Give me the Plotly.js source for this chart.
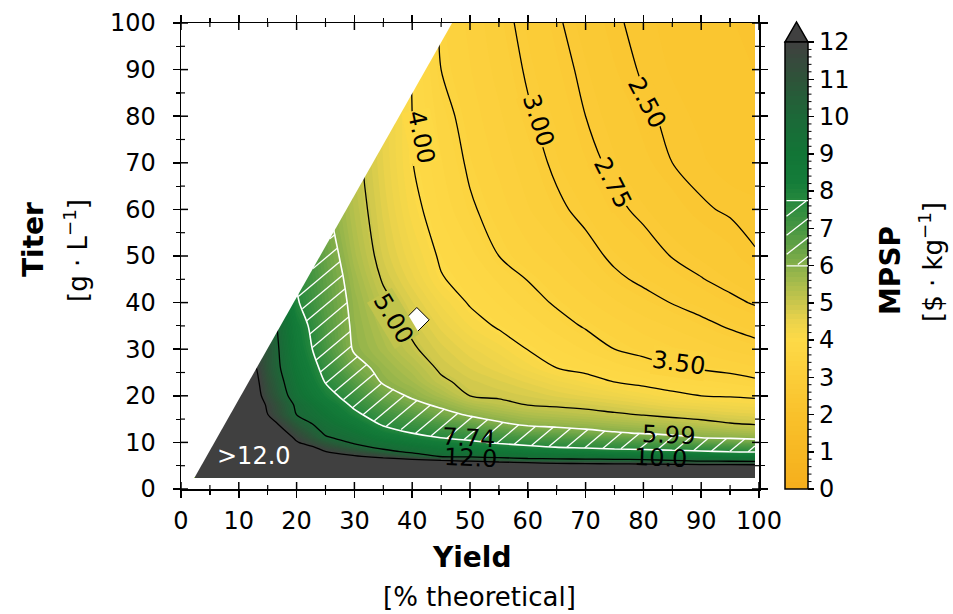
<!DOCTYPE html>
<html>
<head>
<meta charset="utf-8">
<script src="https://cdn.plot.ly/plotly-3.0.1.min.js"></script>
<style>html,body{margin:0;padding:0;background:#fff;}#chart{width:953px;height:614px;}</style>
</head>
<body>
<div id="chart"></div>
<script>
// ------------------------- DATA -------------------------
const yieldGrid = [2.4, 5, 10, 15, 20, 25, 30, 35, 40, 45, 50, 55, 60, 65, 70, 75, 80, 85, 90, 95, 99.3];
const titerGrid = [2.4, 4, 5, 6, 7, 8, 9, 10, 11, 12, 14, 16, 18, 20, 23, 26, 30, 35, 40, 45, 50, 60, 70, 80, 90, 100];
// MPSP [$/kg], one row per titer, one column per yield
const mpsp = [
  [30, 27, 24, 22, 21, 20.5, 20, 19.5, 19, 18.5, 18.5, 18.5, 18, 17.5, 17, 16.7, 16.5, 16.3, 16.1, 16, 16],
  [28, 25, 22, 20, 19, 18.5, 18, 17.5, 17, 16.5, 16.5, 16.5, 16, 15.5, 15, 14.7, 14.5, 14.3, 14.1, 14, 14],
  [26, 23, 20, 19, 17, 16, 15, 14.5, 14.5, 14.5, 15, 15, 14.4, 13.43, 13.2, 13.0, 12.87, 12.79, 12.68, 12.6, 12.56],
  [25, 22, 20, 18, 16, 14.5, 13.5, 12.85, 12.7, 12.3, 11.9, 11.2, 10.73, 10.57, 10.53, 10.5, 10.38, 10.16, 9.97, 9.87, 9.78],
  [24, 21, 19, 17, 15, 13.2, 12.14, 11.6, 10.81, 9.89, 9.73, 9.53, 9.40, 9.34, 9.27, 9.17, 9.11, 9.01, 8.91, 8.79, 8.71],
  [23, 20, 18, 16, 14, 12.03, 11.27, 10.37, 9.72, 9.35, 9.13, 8.85, 8.66, 8.52, 8.35, 8.14, 8.06, 7.95, 7.85, 7.73, 7.67],
  [22, 19, 17, 15, 13.0, 11.38, 10.41, 9.67, 9.22, 8.80, 8.52, 8.18, 7.91, 7.72, 7.59, 7.46, 7.39, 7.30, 7.20, 7.10, 7.0],
  [21, 18.5, 16.5, 14.3, 12.1, 10.75, 9.83, 9.21, 8.72, 8.26, 7.92, 7.61, 7.41, 7.28, 7.14, 6.99, 6.89, 6.76, 6.59, 6.46, 6.33],
  [20.5, 18, 16, 13.8, 11.75, 10.13, 9.52, 8.74, 8.21, 7.73, 7.50, 7.23, 6.98, 6.84, 6.68, 6.53, 6.39, 6.21, 5.99, 5.92, 5.84],
  [20, 17.5, 15.5, 13.4, 11.38, 9.84, 9.21, 8.28, 7.73, 7.44, 7.17, 6.86, 6.55, 6.40, 6.23, 6.06, 5.94, 5.83, 5.72, 5.62, 5.53],
  [19, 17, 15, 12.7, 10.65, 9.44, 8.58, 7.57, 7.23, 6.86, 6.49, 6.10, 5.84, 5.75, 5.66, 5.55, 5.45, 5.31, 5.19, 5.03, 4.95],
  [18.5, 16.5, 14.7, 12.01, 9.98, 9.04, 7.96, 7.17, 6.74, 6.28, 5.88, 5.63, 5.42, 5.31, 5.20, 5.07, 4.96, 4.85, 4.75, 4.65, 4.59],
  [18, 16, 14.4, 11.8, 9.80, 8.64, 7.55, 6.77, 6.25, 5.84, 5.44, 5.21, 5.0, 4.93, 4.85, 4.74, 4.61, 4.46, 4.38, 4.29, 4.23],
  [17.5, 15.5, 14.06, 11.42, 9.40, 8.15, 7.22, 6.4, 5.87, 5.48, 5.0, 4.9, 4.8, 4.66, 4.54, 4.41, 4.25, 4.1, 4.0, 3.96, 3.91],
  [17, 15, 14.0, 11.14, 9.12, 7.69, 6.75, 5.9, 5.57, 5.09, 4.85, 4.71, 4.54, 4.34, 4.17, 3.99, 3.89, 3.80, 3.73, 3.65, 3.56],
  [16.5, 14.5, 13.7, 10.89, 8.87, 7.4, 6.3, 5.73, 5.35, 4.91, 4.68, 4.49, 4.25, 4.0, 3.88, 3.77, 3.63, 3.52, 3.46, 3.40, 3.33],
  [16, 14, 12.5, 10.89, 8.59, 7.03, 5.90, 5.5, 5.07, 4.74, 4.48, 4.25, 3.99, 3.82, 3.67, 3.5, 3.41, 3.33, 3.26, 3.17, 3.10],
  [16, 14, 12.3, 10.79, 8.34, 6.84, 5.83, 5.34, 4.89, 4.52, 4.18, 3.95, 3.79, 3.62, 3.47, 3.37, 3.26, 3.17, 3.07, 2.97, 2.89],
  [16, 14, 12.2, 10.71, 7.85, 6.68, 5.76, 5.16, 4.70, 4.28, 3.96, 3.8, 3.62, 3.46, 3.34, 3.21, 3.09, 2.99, 2.9, 2.80, 2.73],
  [16, 14, 12.1, 10.6, 7.67, 6.58, 5.64, 4.94, 4.48, 4.03, 3.85, 3.66, 3.49, 3.35, 3.21, 3.05, 2.95, 2.86, 2.76, 2.68, 2.60],
  [16, 14, 12, 10.4, 7.56, 6.44, 5.48, 4.79, 4.33, 3.94, 3.74, 3.5, 3.36, 3.24, 3.09, 2.95, 2.85, 2.74, 2.67, 2.59, 2.51],
  [16, 14, 12, 10.17, 7.54, 6.13, 5.29, 4.65, 4.12, 3.79, 3.54, 3.38, 3.2, 3.05, 2.93, 2.8, 2.7, 2.61, 2.52, 2.48, 2.46],
  [16, 14, 12, 10.17, 7.54, 6.08, 5.17, 4.56, 4.01, 3.70, 3.45, 3.28, 3.11, 2.95, 2.82, 2.70, 2.59, 2.5, 2.45, 2.40, 2.38],
  [16, 14, 12, 10.24, 7.59, 6.14, 5.1, 4.53, 4.0, 3.61, 3.38, 3.21, 3.03, 2.89, 2.75, 2.64, 2.53, 2.465, 2.42, 2.37, 2.34],
  [16, 14, 12, 10.24, 7.59, 6.14, 5.1, 4.52, 3.98, 3.5, 3.32, 3.14, 2.97, 2.83, 2.70, 2.57, 2.48, 2.43, 2.39, 2.34, 2.31],
  [16, 14, 12, 10.4, 7.74, 6.28, 5.2, 4.53, 3.94, 3.46, 3.28, 3.09, 2.92, 2.78, 2.64, 2.52, 2.46, 2.41, 2.37, 2.32, 2.28]
];
// edge of the feasible (coloured) region: titer limit versus yield
const boundaryYield = [2.4, 46.9];
const boundaryTiter = [2.6, 100];
// contour levels
const blackLevels = [2.5, 2.75, 3.0, 3.5, 4.0, 5.0, 10.0, 12.0];
const hatchLevels = [5.99, 7.74];
// current-performance marker
const markerYield = [40.8];
const markerTiter = [36.3];
const xTickVals = [0, 10, 20, 30, 40, 50, 60, 70, 80, 90, 100];
const yTickVals = [0, 10, 20, 30, 40, 50, 60, 70, 80, 90, 100];
const minorTickVals = [5, 15, 25, 35, 45, 55, 65, 75, 85, 95];

// ------------------------- STYLE / LAYOUT -------------------------
const FONT = 'DejaVu Sans';
const M = {l: 181, r: 194, t: 23, b: 125};
const W = 953 - M.l - M.r, H = 614 - M.t - M.b;
const cbX = (785 - M.l) / W, cbThick = 23, cbLen = 447 / H;
const HATCH_SP = 12, HATCH_ANG = 40;
const MAJ = 7, MIN = 4; // inner tick lengths in px

const colorStops = [
  [0 / 12, '#F5AE1C'], [1 / 12, '#F7B823'], [2 / 12, '#F9C12B'], [3 / 12, '#FBCD39'],
  [4 / 12, '#FDDA47'], [4.5 / 12, '#EBD34B'], [5 / 12, '#C9C64C'], [5.5 / 12, '#A9BC4C'],
  [6 / 12, '#86AF4A'], [6.5 / 12, '#64A246'], [7 / 12, '#479642'], [7.75 / 12, '#25883D'],
  [8.25 / 12, '#147C39'], [9 / 12, '#127536'], [10 / 12, '#1C6838'], [11 / 12, '#2E5339'],
  [12 / 12, '#404040']
];

const contourLabels = [
  {text: '2.50', x: 80.6, y: 82.8, angle: 62, gap: true},
  {text: '2.75', x: 74.7, y: 65.7, angle: 63, gap: true},
  {text: '3.00', x: 61.8, y: 79.2, angle: 72, gap: true},
  {text: '4.00', x: 41.6, y: 75.6, angle: 78, gap: true},
  {text: '5.00', x: 36.7, y: 36.7, angle: 59, gap: true},
  {text: '3.50', x: 86.0, y: 27.0, angle: 8, gap: true},
  {text: '7.74', x: 49.7, y: 10.9, angle: 3, gap: false},
  {text: '12.0', x: 50.0, y: 6.7, angle: 2, gap: false},
  {text: '5.99', x: 84.3, y: 11.6, angle: 2, gap: false},
  {text: '10.0', x: 82.9, y: 6.7, angle: 2, gap: false}
];

// ------------------------- helpers -------------------------
function idx(arr, v) { let i = 0; while (i < arr.length - 2 && v > arr[i + 1]) i++; return i; }
function zAt(x, y) {
  if (x < yieldGrid[0] || x > yieldGrid[yieldGrid.length - 1] || y < titerGrid[0] || y > titerGrid[titerGrid.length - 1]) return NaN;
  const i = idx(yieldGrid, x), j = idx(titerGrid, y);
  const tx = (x - yieldGrid[i]) / (yieldGrid[i + 1] - yieldGrid[i]);
  const ty = (y - titerGrid[j]) / (titerGrid[j + 1] - titerGrid[j]);
  return (1 - tx) * (1 - ty) * mpsp[j][i] + tx * (1 - ty) * mpsp[j][i + 1] + (1 - tx) * ty * mpsp[j + 1][i] + tx * ty * mpsp[j + 1][i + 1];
}
function boundaryAt(t) {
  return boundaryYield[0] + (t - boundaryTiter[0]) * (boundaryYield[1] - boundaryYield[0]) / (boundaryTiter[1] - boundaryTiter[0]);
}
function hex2rgb(h) { return [parseInt(h.slice(1, 3), 16), parseInt(h.slice(3, 5), 16), parseInt(h.slice(5, 7), 16)]; }
function colorAt(v) {
  const f = Math.max(0, Math.min(1, v / 12));
  for (let k = 0; k < colorStops.length - 1; k++) {
    const a = colorStops[k], b = colorStops[k + 1];
    if (f <= b[0]) {
      const t = (f - a[0]) / (b[0] - a[0]), ca = hex2rgb(a[1]), cb = hex2rgb(b[1]);
      return 'rgb(' + ca.map((c, n) => Math.round(c + t * (cb[n] - c))).join(',') + ')';
    }
  }
  return colorStops[colorStops.length - 1][1];
}
function buildHatch(inside, wpx, hpx, spacing, angleDeg, phase) {
  const th = angleDeg * Math.PI / 180, ux = Math.cos(th), uy = Math.sin(th), nx = -uy, ny = ux;
  const corners = [[0, 0], [wpx, 0], [0, hpx], [wpx, hpx]];
  const cv = corners.map(p => nx * p[0] + ny * p[1]), tv = corners.map(p => ux * p[0] + uy * p[1]);
  const cmin = Math.min(...cv), cmax = Math.max(...cv), tmin = Math.min(...tv), tmax = Math.max(...tv);
  const segs = [];
  for (let c = Math.floor((cmin - phase) / spacing) * spacing + phase; c <= cmax; c += spacing) {
    let s = null, e = null;
    for (let t = tmin; t <= tmax; t += 0.4) {
      const px = c * nx + t * ux, py = c * ny + t * uy;
      const ok = px >= 0 && px <= wpx && py >= 0 && py <= hpx && inside(px, py);
      if (ok) { if (!s) s = [px, py]; e = [px, py]; }
      else if (s) { segs.push([s, e]); s = null; }
    }
    if (s) segs.push([s, e]);
  }
  return segs.filter(g => Math.hypot(g[1][0] - g[0][0], g[1][1] - g[0][1]) > 1.5);
}

// ------------------------- traces -------------------------
const traces = [];
traces.push({
  type: 'contour', x: yieldGrid, y: titerGrid, z: mpsp, colorscale: colorStops,
  autocontour: false,
  contours: {start: 0.0625, end: 11.9375, size: 0.125, coloring: 'fill', showlines: false},
  line: {width: 0}, hoverinfo: 'skip', showscale: true,
  colorbar: {
    x: cbX, xanchor: 'left', y: 0, yanchor: 'bottom', len: cbLen, lenmode: 'fraction',
    thickness: cbThick, thicknessmode: 'pixels', xpad: 0, ypad: 0,
    outlinewidth: 1.5, outlinecolor: 'black',
    tickmode: 'linear', tick0: 0, dtick: 1, ticks: 'outside', ticklen: 6, tickwidth: 1.5, tickcolor: 'black',
    tickfont: {family: FONT, size: 24, color: 'black'}
  }
});
blackLevels.forEach(L => traces.push({
  type: 'contour', x: yieldGrid, y: titerGrid, z: mpsp, autocontour: false,
  contours: {start: L, end: L, size: 1, coloring: 'none', showlines: true},
  line: {color: 'black', width: 1.3, smoothing: 0.9}, showscale: false, hoverinfo: 'skip'
}));
hatchLevels.forEach(L => traces.push({
  type: 'contour', x: yieldGrid, y: titerGrid, z: mpsp, autocontour: false,
  contours: {start: L, end: L, size: 1, coloring: 'none', showlines: true},
  line: {color: 'white', width: 1.6, smoothing: 0.9}, showscale: false, hoverinfo: 'skip'
}));
// white mask over the infeasible corner
traces.push({
  type: 'scatter', mode: 'lines',
  x: [boundaryYield[0], boundaryYield[1], boundaryYield[1], -3, -3, boundaryYield[0]],
  y: [boundaryTiter[0], boundaryTiter[1], 103, 103, boundaryTiter[0], boundaryTiter[0]],
  fill: 'toself', fillcolor: 'white', line: {width: 0, color: 'white'}, hoverinfo: 'skip', showlegend: false
});
// hatch between the two white levels
const hs = buildHatch((px, py) => {
  const x = px / W * 100, y = py / H * 100;
  if (x < boundaryAt(y)) return false;
  const z = zAt(x, y);
  return z >= hatchLevels[0] && z <= hatchLevels[1];
}, W, H, HATCH_SP, HATCH_ANG, 0);
const hx = [], hy = [];
hs.forEach(s => { hx.push(s[0][0] / W * 100, s[1][0] / W * 100, null); hy.push(s[0][1] / H * 100, s[1][1] / H * 100, null); });
traces.push({type: 'scatter', mode: 'lines', x: hx, y: hy, line: {color: 'white', width: 1.3}, hoverinfo: 'skip', connectgaps: false, showlegend: false});
// marker
traces.push({
  type: 'scatter', mode: 'markers', x: markerYield, y: markerTiter,
  marker: {symbol: 'diamond', size: 19, color: 'white', line: {color: 'black', width: 1}},
  hoverinfo: 'skip', showlegend: false
});

// ------------------------- annotations & shapes -------------------------
const annotations = [];
contourLabels.forEach(L => {
  const a = {xref: 'x', yref: 'y', x: L.x, y: L.y, text: L.text, showarrow: false, textangle: L.angle,
    font: {family: FONT, size: 24, color: 'black'}, borderpad: 0};
  if (L.gap) a.bgcolor = colorAt(zAt(L.x, L.y));
  annotations.push(a);
});
annotations.push({xref: 'x', yref: 'y', x: 12.6, y: 7.1, text: '>12.0', showarrow: false,
  font: {family: FONT, size: 24, color: 'white'}});
function px2paperX(p) { return (p - M.l) / W; }
function px2paperY(p) { return (M.t + H - p) / H; }
const titles = [
  {text: '<b>Titer</b>', x: 33, y: 240, angle: -90, size: 28},
  {text: '[g · L<sup>−1</sup>]', x: 76, y: 251, angle: -90, size: 26},
  {text: '<b>Yield</b>', x: 472, y: 557, angle: 0, size: 28},
  {text: '[% theoretical]', x: 479, y: 597, angle: 0, size: 26},
  {text: '<b>MPSP</b>', x: 890, y: 271, angle: -90, size: 28},
  {text: '[$ · kg<sup>−1</sup>]', x: 931, y: 262, angle: -90, size: 26}
];
titles.forEach(t => annotations.push({xref: 'paper', yref: 'paper', x: px2paperX(t.x), y: px2paperY(t.y),
  xanchor: 'center', yanchor: 'middle', text: t.text, textangle: t.angle, showarrow: false,
  font: {family: FONT, size: t.size, color: 'black'}}));
// hatch on the colorbar (annotation arrows so they sit above the bar)
const cbHpx = cbLen * H;
function lineAnn(x0, y0, x1, y1) { // px coords relative to bar bottom-left (y up)
  return {xref: 'paper', yref: 'paper', x: cbX + x1 / W, y: y1 / H, ax: x0 - x1, ay: -(y0 - y1),
    axref: 'pixel', ayref: 'pixel', text: ' ', font: {size: 1}, showarrow: true, arrowhead: 0, arrowwidth: 1.3,
    arrowcolor: 'white', standoff: 0, startstandoff: 0};
}
buildHatch((u, v) => { const val = v / cbHpx * 12; return val >= hatchLevels[0] && val <= hatchLevels[1]; },
  cbThick, cbHpx, 15, 38, 4).forEach(s => annotations.push(lineAnn(s[0][0], s[0][1], s[1][0], s[1][1])));
hatchLevels.forEach(L => { const v = L / 12 * cbHpx; annotations.push(lineAnn(0, v, cbThick, v)); });

const shapes = [{
  type: 'path', xref: 'paper', yref: 'paper', layer: 'above',
  path: 'M ' + cbX + ',' + cbLen + ' L ' + (cbX + cbThick / W) + ',' + cbLen + ' L ' + (cbX + cbThick / 2 / W) + ',' + (cbLen + 20 / H) + ' Z',
  fillcolor: '#404040', line: {color: 'black', width: 1.5}
}];
// inner halves of the crossing ticks on all four sides
function innerTicks(vals, len, w) {
  vals.forEach(v => {
    const tl = {color: 'black', width: w};
    shapes.push({type: 'line', layer: 'above', xref: 'x', yref: 'paper', x0: v, x1: v, y0: 0, y1: len / H, line: tl});
    shapes.push({type: 'line', layer: 'above', xref: 'x', yref: 'paper', x0: v, x1: v, y0: 1, y1: 1 - len / H, line: tl});
    shapes.push({type: 'line', layer: 'above', xref: 'paper', yref: 'y', y0: v, y1: v, x0: 0, x1: len / W, line: tl});
    shapes.push({type: 'line', layer: 'above', xref: 'paper', yref: 'y', y0: v, y1: v, x0: 1, x1: 1 - len / W, line: tl});
  });
}
innerTicks(xTickVals, MAJ, 1.5);
innerTicks(minorTickVals, MIN, 1.2);
// minor ticks on the colorbar edge
for (let k = 1; k < 60; k++) {
  if (k % 5 === 0) continue;
  const yv = k / 60 * cbLen;
  shapes.push({type: 'line', layer: 'above', xref: 'paper', yref: 'paper', x0: cbX + cbThick / W, x1: cbX + (cbThick + 3.5) / W,
    y0: yv, y1: yv, line: {color: 'black', width: 1}});
}

const axBase = {
  range: [0, 100], tickmode: 'array', showgrid: false, zeroline: false,
  ticks: 'outside', ticklen: 7, tickwidth: 1.5, tickcolor: 'black',
  showline: true, linecolor: 'black', linewidth: 1.5, mirror: 'allticks',
  minor: {ticks: 'outside', tickvals: minorTickVals, ticklen: 4, tickwidth: 1.2, tickcolor: 'black', showgrid: false},
  tickfont: {family: FONT, size: 24}
};
const layout = {
  width: 953, height: 614, margin: {l: M.l, r: M.r, t: M.t, b: M.b, pad: 0},
  paper_bgcolor: 'white', plot_bgcolor: 'white', showlegend: false,
  font: {family: FONT, size: 24, color: 'black'},
  xaxis: Object.assign({}, axBase, {tickvals: xTickVals, ticklabelstandoff: 3}),
  yaxis: Object.assign({}, axBase, {tickvals: yTickVals, ticklabelstandoff: 12}),
  annotations: annotations,
  shapes: shapes
};

Plotly.newPlot('chart', traces, layout, {staticPlot: true, displayModeBar: false});
</script>
</body>
</html>
